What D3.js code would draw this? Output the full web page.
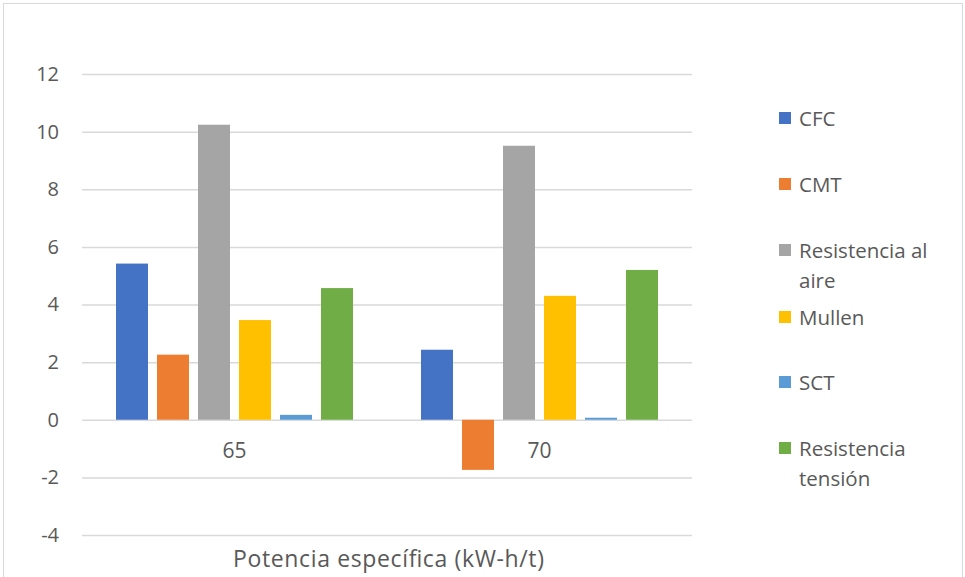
<!DOCTYPE html>
<html>
<head>
<meta charset="utf-8">
<script src="https://cdn.jsdelivr.net/npm/d3@7"></script>
<style>
  html, body { margin: 0; padding: 0; background: #fff; }
  svg { display: block; font-family: "Open Sans", "Noto Sans", sans-serif; }
</style>
</head>
<body>
<svg id="chart" width="965" height="577"></svg>
<script>
// Categories along the x axis (specific power, kW-h/t)
const categories = ["65", "70"];

// Series names and colours
const seriesNames = ["CFC", "CMT", "Resistencia al aire", "Mullen", "SCT", "Resistencia tensión"];
const seriesColors = ["#4472C4", "#ED7D31", "#A5A5A5", "#FFC000", "#5B9BD5", "#70AD47"];

// Values per series, one per category
const cfc = [5.42, 2.43];
const cmt = [2.26, -1.74];
const aire = [10.24, 9.51];
const mullen = [3.46, 4.30];
const sct = [0.17, 0.07];
const tension = [4.57, 5.20];

const seriesValues = [cfc, cmt, aire, mullen, sct, tension];

// Y-axis ticks
const yTicks = [-4, -2, 0, 2, 4, 6, 8, 10, 12];

const xTitle = "Potencia específica (kW-h/t)";

const svg = d3.select("#chart");
const textColor = "#595959";
const gridColor = "#D9D9D9";

// Outer chart border
svg.append("rect")
  .attr("x", 3.5).attr("y", 3.5)
  .attr("width", 959).attr("height", 580)
  .attr("fill", "none").attr("stroke", gridColor).attr("stroke-width", 1);

const plot = { left: 82, right: 692, top: 74, bottom: 535 };

const y = d3.scaleLinear().domain([-4, 12]).range([plot.bottom, plot.top]);
const x0 = d3.scaleBand().domain(categories).range([plot.left, plot.right]).paddingInner(0).paddingOuter(0);
const groupWidth = 237;
const x1 = d3.scaleBand().domain(d3.range(seriesNames.length))
  .range([0, groupWidth]).paddingInner(9 / 41).paddingOuter(0);

// Gridlines with labels (plain hyphen for negatives)
const yAxis = d3.axisLeft(y).tickValues(yTicks)
  .tickFormat(d => String(d))
  .tickSize(-(plot.right - plot.left)).tickPadding(23);
const gy = svg.append("g").attr("transform", `translate(${plot.left},0)`).call(yAxis);
gy.select(".domain").remove();
gy.selectAll(".tick line").attr("stroke", gridColor).attr("stroke-width", 1.5);
gy.selectAll(".tick text")
  .attr("fill", textColor).attr("font-size", 20)
  .attr("font-family", "'Open Sans', 'Noto Sans', sans-serif");

// Bars
const data = [];
categories.forEach((c, ci) => {
  seriesValues.forEach((vals, si) => data.push({ cat: c, si, v: vals[ci] }));
});

svg.append("g").selectAll("rect")
  .data(data)
  .join("rect")
  .attr("x", d => x0(d.cat) + (x0.bandwidth() - groupWidth) / 2 + x1(d.si))
  .attr("width", x1.bandwidth())
  .attr("y", d => y(Math.max(0, d.v)))
  .attr("height", d => Math.abs(y(d.v) - y(0)))
  .attr("fill", d => seriesColors[d.si]);

// Category labels just below the zero line
svg.append("g").selectAll("text")
  .data(categories)
  .join("text")
  .attr("x", d => x0(d) + x0.bandwidth() / 2)
  .attr("y", y(0) + 38)
  .attr("text-anchor", "middle")
  .attr("fill", textColor).attr("font-size", 21)
  .text(d => d);

// Axis title
svg.append("text")
  .attr("x", 233)
  .attr("y", 567)
  .attr("fill", textColor).attr("font-size", 23)
  .attr("textLength", 311).attr("lengthAdjust", "spacing")
  .text(xTitle);

// Legend
const legendLines = [["CFC"], ["CMT"], ["Resistencia al", "aire"], ["Mullen"], ["SCT"], ["Resistencia", "tensión"]];
const legendY = [118, 184, 250, 317, 382, 448];
const lg = svg.append("g");
legendLines.forEach((lines, i) => {
  lg.append("rect")
    .attr("x", 779).attr("y", legendY[i] - 6)
    .attr("width", 12).attr("height", 12)
    .attr("fill", seriesColors[i]);
  lines.forEach((ln, j) => {
    lg.append("text")
      .attr("x", 799).attr("y", legendY[i] + j * 30 + 7.5)
      .attr("fill", textColor).attr("font-size", 20.5)
      .text(ln);
  });
});
</script>
</body>
</html>
